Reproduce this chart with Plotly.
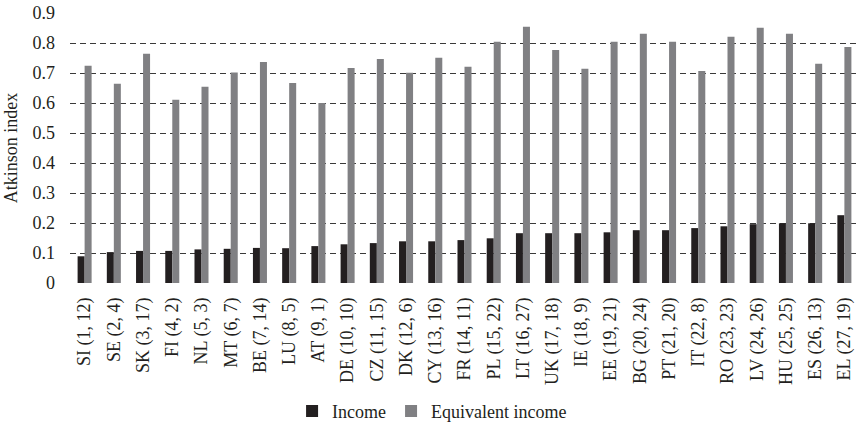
import plotly.graph_objects as go

countries = ["SI (1, 12)", "SE (2, 4)", "SK (3, 17)", "FI (4, 2)", "NL (5, 3)", "MT (6, 7)",
             "BE (7, 14)", "LU (8, 5)", "AT (9, 1)", "DE (10, 10)", "CZ (11, 15)", "DK (12, 6)",
             "CY (13, 16)", "FR (14, 11)", "PL (15, 22)", "LT (16, 27)", "UK (17, 18)", "IE (18, 9)",
             "EE (19, 21)", "BG (20, 24)", "PT (21, 20)", "IT (22, 8)", "RO (23, 23)", "LV (24, 26)",
             "HU (25, 25)", "ES (26, 13)", "EL (27, 19)"]

income = [0.089, 0.103, 0.107, 0.107, 0.112, 0.114, 0.117, 0.116, 0.123, 0.129, 0.133, 0.139,
          0.139, 0.143, 0.149, 0.166, 0.166, 0.166, 0.169, 0.176, 0.176, 0.183, 0.189, 0.196,
          0.199, 0.199, 0.226]

equivalent_income = [0.724, 0.664, 0.764, 0.611, 0.654, 0.702, 0.737, 0.667, 0.600, 0.717,
                     0.747, 0.701, 0.751, 0.721, 0.804, 0.854, 0.777, 0.714, 0.804, 0.831,
                     0.804, 0.707, 0.821, 0.851, 0.831, 0.731, 0.787]

y_ticks = [0, 0.1, 0.2, 0.3, 0.4, 0.5, 0.6, 0.7, 0.8, 0.9]
y_tick_text = ["0", "0.1", "0.2", "0.3", "0.4", "0.5", "0.6", "0.7", "0.8", "0.9"]

FONT = "'Liberation Serif', 'Times New Roman', Tinos, 'DejaVu Serif', serif"
TEXT = "#231f20"

fig = go.Figure()
fig.add_trace(go.Bar(x=countries, y=income, name="Income",
                     marker=dict(color="#231f20", line=dict(width=0))))
fig.add_trace(go.Bar(x=countries, y=equivalent_income, name="Equivalent income",
                     marker=dict(color="#808083", line=dict(width=0))))

fig.update_layout(
    width=859, height=424,
    margin=dict(l=70, r=0, t=13, b=141, autoexpand=False),
    paper_bgcolor="white", plot_bgcolor="white",
    barmode="group", bargap=0.52, bargroupgap=0,
    font=dict(family=FONT, size=18, color=TEXT),
    showlegend=True,
    legend=dict(orientation="h", xref="container", yref="container",
                x=0.503, xanchor="center", y=0.03, yanchor="middle",
                font=dict(family=FONT, size=18, color=TEXT),
                itemwidth=30, tracegroupgap=0, bgcolor="rgba(0,0,0,0)"),
)

fig.update_xaxes(
    type="category", tickangle=-90, showgrid=False, zeroline=False, showline=False,
    ticks="", ticklabelstandoff=10, automargin=False,
    tickfont=dict(family=FONT, size=18, color=TEXT),
    range=[-0.5, 26.5],
)
fig.update_yaxes(
    range=[0, 0.9], tickvals=y_ticks, ticktext=y_tick_text,
    showgrid=True, gridcolor="#3a3a3a", gridwidth=1, griddash="6px,4px",
    zeroline=False, showline=False, ticks="", ticklabelstandoff=14, automargin=False,
    tickfont=dict(family=FONT, size=18, color=TEXT),
    title=dict(text="Atkinson index", font=dict(family=FONT, size=18, color=TEXT), standoff=10),
)

fig.write_html("out.html", config={"displayModeBar": False},
               post_script="document.body.style.margin='0';")
